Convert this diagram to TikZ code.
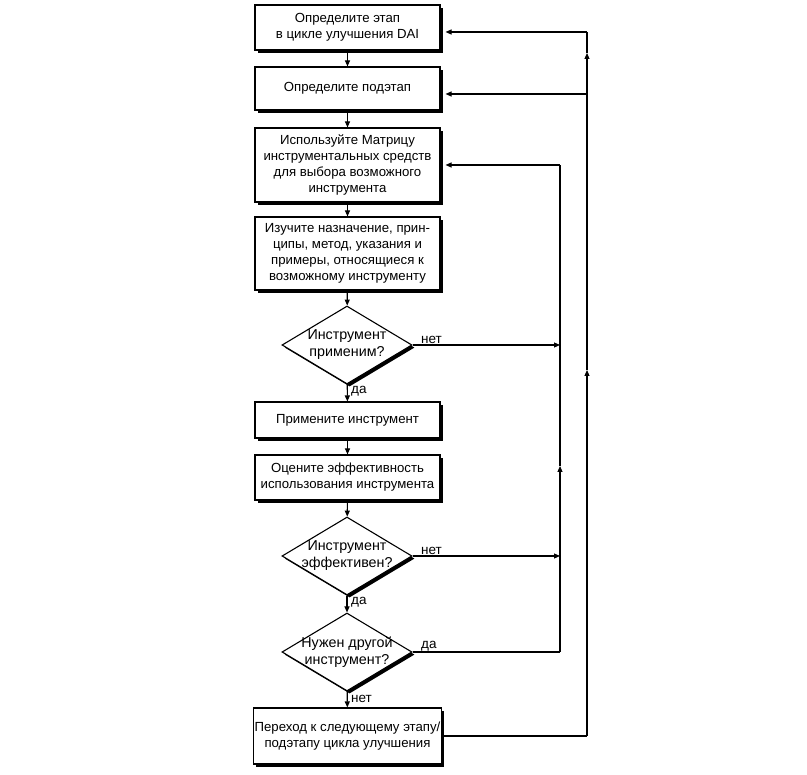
\documentclass[tikz,border=0pt]{standalone}
\usepackage{fontspec}
\setmainfont{Liberation Sans}
\usetikzlibrary{arrows.meta,shapes.geometric,shadows,calc}
\begin{document}
\begin{tikzpicture}[x=1pt,y=-1pt,
  shad/.style={drop shadow={shadow xshift=2.6pt,shadow yshift=-2.6pt,fill=black,opacity=1}},
  box/.style={draw,line width=1.1pt,fill=white,minimum width=185pt,align=center,inner sep=1pt,
    font=\fontsize{13.2}{16}\selectfont,shad},
  dia/.style={diamond,draw,line width=1.1pt,fill=white,minimum width=130pt,minimum height=78pt,inner sep=0pt,shad},
  dtext/.style={align=center,inner sep=0pt,font=\fontsize{14.3}{17}\selectfont},
  lbl/.style={inner sep=0pt,font=\fontsize{13.5}{15}\selectfont},
  arr/.style={-{Triangle[length=6pt,width=5pt]},line width=1.1pt},
  ln/.style={line width=1.1pt}]
\useasboundingbox (0,0) rectangle (807,775);

\node[box,minimum height=45pt] (b1) at (347.5,27.5) {Определите этап\\в цикле улучшения DAI};
\node[box,minimum height=43pt] (b2) at (347.5,88.5) {Определите подэтап};
\node[box,minimum height=74pt] (b3) at (347.5,165) {Используйте Матрицу\\инструментальных средств\\для выбора возможного\\инструмента};
\node[box,minimum height=73pt] (b4) at (347.5,253.5) {Изучите назначение, прин-\\ципы, метод, указания и\\примеры, относящиеся к\\возможному инструменту};
\node[dia] (d1) at (347,345) {};
\node[dtext] (t1) at (d1) {Инструмент\\применим?};
\node[box,minimum height=36pt] (b5) at (347.5,420) {Примените инструмент};
\node[box,minimum height=45pt] (b6) at (347.5,477.5) {Оцените эффективность\\использования инструмента};
\node[dia] (d2) at (347,556) {};
\node[dtext] (t2) at (d2) {Инструмент\\эффективен?};
\node[dia] (d3) at (347,652) {};
\node[dtext] (t3) at (d3) {Нужен другой\\инструмент?};
\node[box,minimum height=56pt] (b7) at (347.5,736) {Переход к следующему этапу/\\подэтапу цикла улучшения};

% vertical flow
\draw[arr] (b1) -- (b2);
\draw[arr] (b2) -- (b3);
\draw[arr] (b3) -- (b4);
\draw[arr] (b4) -- (d1);
\draw[arr] (d1) -- (b5);
\draw[arr] (b5) -- (b6);
\draw[arr] (b6) -- (d2);
\draw[arr] (d2) -- (d3);
\draw[arr] (d3) -- (b7);

% labels
\node[lbl,anchor=south west] (l1) at (421,344) {нет};
\node[lbl,anchor=west] (l2) at (351,391) {да};
\node[lbl,anchor=south west] (l3) at (421,555) {нет};
\node[lbl,anchor=west] (l4) at (351,602) {да};
\node[lbl,anchor=south west] (l5) at (421,651) {да};
\node[lbl,anchor=west] (l6) at (351,699) {нет};

% inner loop
\coordinate (i0) at (560,165);
\coordinate (i1) at (560,345);
\coordinate (i2) at (560,556);
\coordinate (i3) at (560,652);
\coordinate (iu) at (560,466);
\draw[arr] (d1.east) -- (i1);
\draw[arr] (d2.east) -- (i2);
\draw[ln] (d3.east) -- (i3);
\draw[arr] (i3) -- (iu);
\draw[ln] (iu) -- (i0);
\draw[arr] (i0) -- ($(b3.east |- i0)+(5,0)$);

% outer loop
\coordinate (o7) at (587,736);
\coordinate (ou1) at (587,370);
\coordinate (o2) at (587,94);
\coordinate (ou2) at (587,53);
\coordinate (o1) at (587,32);
\draw[ln] (b7.east) -- (o7);
\draw[arr] (o7) -- (ou1);
\draw[ln] (ou1) -- (o2);
\draw[arr] (o2) -- ($(b2.east |- o2)+(5,0)$);
\draw[arr] (o2) -- (ou2);
\draw[ln] (ou2) -- (o1);
\draw[arr] (o1) -- ($(b1.east |- o1)+(5,0)$);
\end{tikzpicture}
\end{document}
